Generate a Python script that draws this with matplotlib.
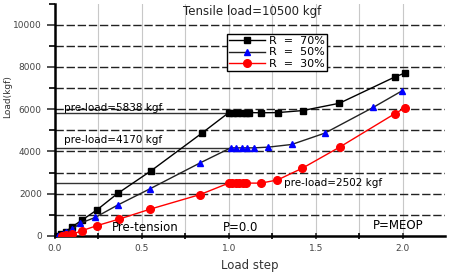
import matplotlib
matplotlib.use("Agg")
import matplotlib.pyplot as plt
from matplotlib.ticker import MultipleLocator

plt.rcParams['font.family'] = ['DejaVu Sans']

# R = 70 %
r70_x = [0.0, 0.035, 0.063, 0.096, 0.155, 0.24, 0.36, 0.552, 0.845, 1.0, 1.025, 1.05,
         1.075, 1.1, 1.118, 1.184, 1.282, 1.425, 1.636, 1.958, 2.013]
r70_y = [0, 100, 200, 420, 750, 1225, 2010, 3080, 4865, 5838, 5838, 5838,
         5838, 5838, 5840, 5830, 5840, 5935, 6280, 7535, 7710]
# R = 50 %
r50_x = [0.015, 0.044, 0.063, 0.098, 0.145, 0.232, 0.36, 0.546, 0.833, 1.011, 1.044,
         1.075, 1.103, 1.145, 1.228, 1.362, 1.552, 1.832, 1.998]
r50_y = [0, 95, 200, 315, 600, 880, 1460, 2230, 3450, 4170, 4170,
         4170, 4170, 4170, 4205, 4330, 4865, 6090, 6875]
# R = 30 %
r30_x = [0.04, 0.063, 0.098, 0.155, 0.24, 0.37, 0.548, 0.835, 1.0, 1.02, 1.04, 1.06,
         1.08, 1.1, 1.184, 1.28, 1.424, 1.638, 1.954, 2.013]
r30_y = [0, 30, 80, 250, 485, 800, 1270, 1960, 2502, 2502, 2502, 2502,
         2502, 2502, 2500, 2650, 3210, 4205, 5780, 6060]

preloads = [5838, 4170, 2502]

fig = plt.figure(figsize=(4.51, 2.75), dpi=100)
ax = fig.add_axes([0.122, 0.142, 0.865, 0.845])

ax.set_xlim(0, 2.245)
ax.set_ylim(0, 11000)

# grid
for y in range(1000, 11000, 1000):
    ax.axhline(y, color='#222222', lw=1.0, ls=(0, (6, 2)), zorder=1)
for x in [0.25, 0.5, 0.75, 1.0, 1.25, 1.5, 1.75, 2.0]:
    ax.axvline(x, color='#c8c8c8', lw=0.8, zorder=0)
for p in preloads:
    ax.plot([0, 1.0], [p, p], color='#333333', lw=1.0, zorder=1)

ax.plot(r70_x, r70_y, '-', color='black', lw=1.0, marker='s', ms=5,
        mfc='black', mec='black', label='R  =  70%', zorder=3)
ax.plot(r50_x, r50_y, '-', color='#222222', lw=1.0, marker='^', ms=5,
        mfc='blue', mec='blue', label='R  =  50%', zorder=3)
ax.plot(r30_x, r30_y, '-', color='red', lw=1.0, marker='o', ms=5.5,
        mfc='red', mec='red', label='R  =  30%', zorder=3)

leg = ax.legend(loc='upper left', bbox_to_anchor=(0.441, 0.871), fontsize=8,
                frameon=True, fancybox=False, edgecolor='black', framealpha=1,
                handlelength=3.2, borderpad=0.2, labelspacing=0.15, handletextpad=0.4,
                borderaxespad=0)
leg.get_frame().set_linewidth(1.0)

ax.text(0.505, 0.965, 'Tensile load=10500 kgf', transform=ax.transAxes,
        ha='center', va='center', fontsize=8.5, color='#222222')
ax.text(0.05, 5838, 'pre-load=5838 kgf', ha='left', va='bottom', fontsize=7.5)
ax.text(0.05, 4300, 'pre-load=4170 kgf', ha='left', va='bottom', fontsize=7.5)
ax.text(1.32, 2502, 'pre-load=2502 kgf', ha='left', va='center', fontsize=7.5)
ax.text(0.33, 400, 'Pre-tension', ha='left', va='center', fontsize=8.5)
ax.text(0.965, 400, 'P=0.0', ha='left', va='center', fontsize=8.5)
ax.text(1.828, 500, 'P=MEOP', ha='left', va='center', fontsize=8.5)

ax.xaxis.set_major_locator(MultipleLocator(0.5))
ax.xaxis.set_minor_locator(MultipleLocator(0.25))
ax.yaxis.set_major_locator(MultipleLocator(2000))
ax.yaxis.set_minor_locator(MultipleLocator(1000))
ax.xaxis.set_major_formatter(lambda v, pos: f'{v:.1f}')
ax.tick_params(axis='both', labelsize=6.5, colors='#333333', labelcolor='#444444')
ax.tick_params(axis='x', which='major', direction='inout', length=5, width=1.2)
ax.tick_params(axis='x', which='minor', direction='inout', length=4, width=1.2)
ax.tick_params(axis='y', which='major', direction='out', length=6, width=1.2)
ax.tick_params(axis='y', which='minor', direction='out', length=4, width=1.2)

ax.spines['top'].set_visible(False)
ax.spines['right'].set_visible(False)
ax.spines['left'].set_linewidth(1.8)
ax.spines['bottom'].set_linewidth(1.8)

ax.set_xlabel('Load step', fontsize=8.5, color='#333333', labelpad=4)
ax.set_ylabel('Load(kgf)', fontsize=6.5, color='#333333')
ax.yaxis.set_label_coords(-0.11, 0.6)

fig.savefig('out.png', dpi=100)
